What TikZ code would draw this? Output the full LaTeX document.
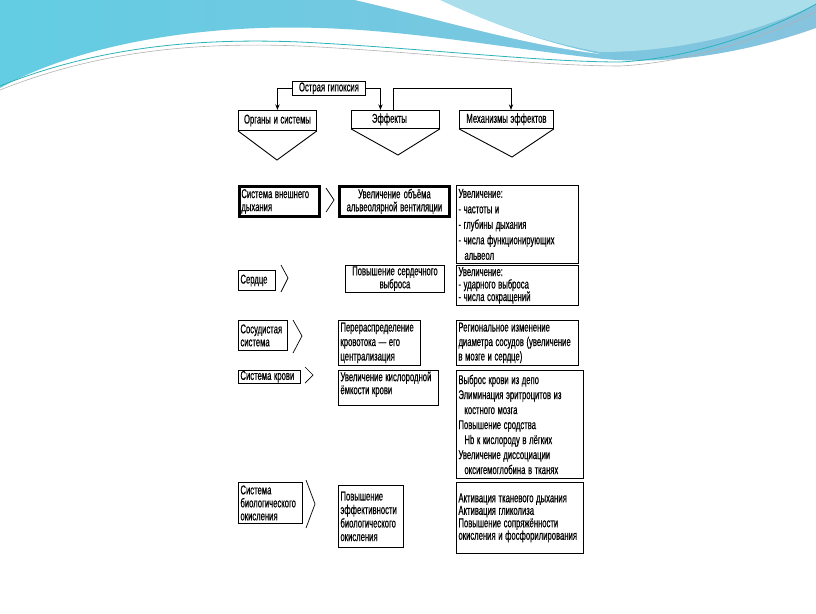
\documentclass[tikz,border=0pt]{standalone}
\usepackage{fontspec}
\setmainfont{Liberation Sans}[FakeStretch=0.6,WordSpace=0.7,FakeBold=0.5]
\usetikzlibrary{arrows.meta}
\usepackage{xcolor}

\definecolor{waveleft}{HTML}{62CDE3}
\definecolor{waveright}{HTML}{86C3DE}
\definecolor{wavelight}{HTML}{A9DEEA}
\definecolor{waveline}{HTML}{2BB3B8}

\newcommand{\cellfont}{\fontsize{12.8}{13}\selectfont}
\hfuzz=20pt

\begin{document}
\begin{tikzpicture}[x=1pt,y=-1pt,>={Stealth[length=2mm,width=1.5mm]},
  box/.style={draw,line width=0.9pt,anchor=north west,inner xsep=2pt,inner ysep=1pt,align=left,font=\cellfont,
    execute at begin node={\spaceskip=2.6pt plus 1pt\relax}},
  head/.style={box,align=center},
  bold/.style={line width=2.8pt},
  lead/.style={font=\fontsize{12.8}{#1}\selectfont},
  chev/.style={line width=0.7pt}]
\useasboundingbox (0,0) rectangle (816,613);
\fill[white] (0,0) rectangle (816,613);
% wave at the top
\shade[left color=waveleft,right color=waveright] (0,0) -- (816,0) -- (816,28)
  .. controls (740,55) and (660,66) .. (595,58)
  .. controls (480,45) and (380,24) .. (260,28)
  .. controls (150,32) and (60,55) .. (0,88) -- cycle;
\fill[wavelight] (440,0) .. controls (470,14) and (530,40) .. (600,52)
  .. controls (700,52) and (780,22) .. (816,4) -- (816,0) -- cycle;
\fill[white] (355,0) .. controls (450,22) and (520,44) .. (600,54)
  .. controls (530,40) and (470,14) .. (440,0) -- cycle;
\draw[waveline,line width=0.8pt] (0,86) .. controls (100,46) and (200,38) .. (300,42)
  .. controls (420,48) and (540,62) .. (620,62) .. controls (700,58) and (780,25) .. (816,4);
\draw[gray!60,line width=0.6pt] (0,90) .. controls (100,50) and (200,42) .. (300,46)
  .. controls (420,52) and (540,66) .. (620,66) .. controls (700,62) and (780,30) .. (816,12);

% header row
\node[head,minimum width=73,minimum height=13] (hyp) at (292,81) {Острая гипоксия};
\node[head,minimum width=78,minimum height=20] (org) at (238,110) {Органы и системы};
\node[head,minimum width=88,minimum height=18] (eff) at (351,110) {Эффекты\hspace*{12pt}};
\node[head,minimum width=94,minimum height=18] (mech) at (459,110) {Механизмы эффектов};
\coordinate (orgtip) at (277,160);
\coordinate (efftip) at (398,155);
\coordinate (mechtip) at (512,157);
\draw[line width=0.9pt] (org.south west) -- (orgtip) -- (org.south east);
\draw[line width=0.9pt] (eff.south west) -- (efftip) -- (eff.south east);
\draw[line width=0.9pt] (mech.south west) -- (mechtip) -- (mech.south east);
\coordinate (bend) at (511,88);
\draw[->,line width=0.9pt] (hyp.west) -| (org.north);
\draw[->,line width=0.9pt] (hyp.east) -| ([xshift=-15pt]eff.north);
\draw[->,line width=0.9pt] ([xshift=-2pt]eff.north) |- (bend) -- (bend |- mech.north);

% row 1
\node[box,bold,text width=76,minimum height=30] (r1a) at (238,185) {Система внешнего\\дыхания};
\node[box,bold,align=center,text width=106,minimum height=30] (r1b) at (338,185) {Увеличение объёма\\альвеолярной вентиляции};
\node[box,lead=15.5,text width=118,minimum height=78] (r1c) at (456,185)
  {Увеличение:\\- частоты и\\- глубины дыхания\\- числа функционирующих\\\hspace*{6pt}альвеол};
\draw[chev] (326,188) -- (334,200) -- (326,212);

% row 2
\node[box,text width=33,minimum height=20] (r2a) at (238,270) {Сердце};
\node[box,lead=12,align=center,text width=95,minimum height=25] (r2b) at (345,265) {Повышение сердечного\\выброса};
\node[box,lead=12.5,text width=118,minimum height=40] (r2c) at (456,265)
  {Увеличение:\\- ударного выброса\\- числа сокращений};
\draw[chev] (281,265) -- (288,278) -- (281,292);

% row 3
\node[box,text width=45,minimum height=30] (r3a) at (238,320) {Сосудистая\\система};
\node[box,lead=14.5,text width=78,minimum height=45] (r3b) at (338,320)
  {Перераспределение\\кровотока — его\\централизация};
\node[box,lead=14.5,text width=118,minimum height=45] (r3c) at (456,320)
  {Региональное изменение\\диаметра сосудов (увеличение\\в мозге и сердце)};
\draw[chev] (293,320) -- (302,336) -- (293,353);

% row 4
\node[box,inner ysep=0.5pt,text width=58,minimum height=12] (r4a) at (238,370) {Система крови};
\node[box,text width=96,minimum height=35] (r4b) at (338,370)
  {Увеличение кислородной\\ёмкости крови\rule[-10pt]{0pt}{10pt}};
\node[box,lead=15,text width=123,minimum height=108] (r4c) at (456,370)
  {Выброс крови из депо\\Элиминация эритроцитов из\\\hspace*{6pt}костного мозга\\Повышение сродства\\\hspace*{6pt}Hb к кислороду в лёгких\\Увеличение диссоциации\\\hspace*{6pt}оксигемоглобина в тканях};
\draw[chev] (305,367) -- (313,375) -- (305,383);

% row 5
\node[box,text width=60,minimum height=41] (r5a) at (238,482) {Система\\биологического\\окисления};
\node[box,lead=13.5,text width=61,minimum height=62] (r5b) at (338,485)
  {Повышение\\эффективности\\биологического\\окисления};
\node[box,lead=12.5,text width=123,minimum height=71] (r5c) at (456,482)
  {Активация тканевого дыхания\\Активация гликолиза\\Повышение сопряжённости\\окисления и фосфорилирования};
\draw[chev] (306,480) -- (315,504) -- (306,528);
\end{tikzpicture}
\end{document}
